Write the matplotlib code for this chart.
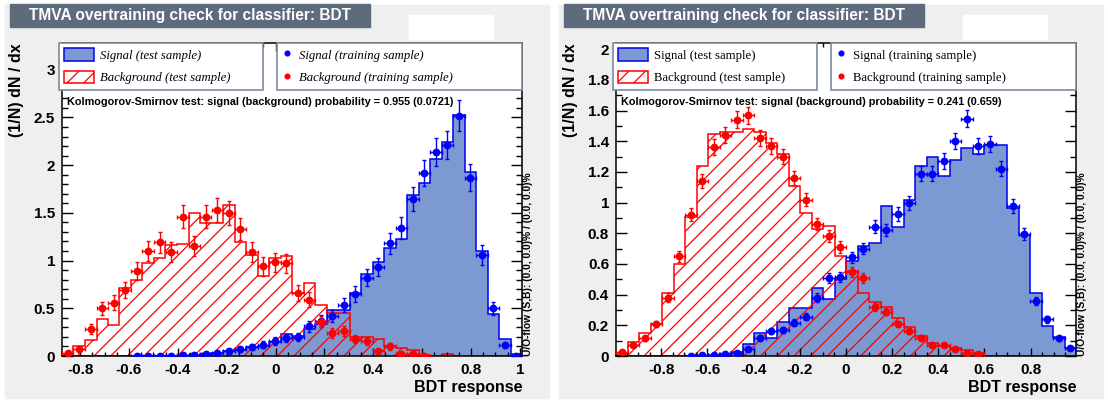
import matplotlib.pyplot as plt
import numpy as np
from matplotlib.patches import Rectangle, Patch
from matplotlib.lines import Line2D
from matplotlib.ticker import MultipleLocator, FuncFormatter

plt.rcParams['font.family'] = ['Liberation Sans', 'DejaVu Sans']
plt.rcParams['font.weight'] = 'bold'
plt.rcParams['axes.labelweight'] = 'bold'
plt.rcParams['axes.unicode_minus'] = False
plt.rcParams['hatch.linewidth'] = 0.9

W, H = 1108, 403

SIG_FILL = '#7d99d1'
SIG_LINE = '#0000ee'
BKG_LINE = '#ff0000'
TITLE_BOX = '#5d6b7d'
PAD_FILL = '#efefef'
LEG_EDGE = '#7d8b9d'

# --- left canvas: BDT response, 40 bins ---
range_L = (-0.874, 1.009)
sig_test_L = [0, 0, 0, 0, 0, 0, 0, 0, 0, 0,
              0.005, 0.01, 0.02, 0.03, 0.05, 0.065, 0.09, 0.11, 0.15, 0.23,
              0.21, 0.28, 0.34, 0.48, 0.48, 0.665, 0.86, 0.99, 1.13, 1.225,
              1.69, 1.81, 2.06, 2.24, 2.53, 1.925, 1.10, 0.44, 0.175, 0.02]
bkg_test_L = [0.02, 0.10, 0.17, 0.39, 0.33, 0.71, 0.80, 0.97, 1.03, 1.16,
              1.17, 1.50, 1.39, 1.39, 1.58, 1.19, 1.06, 0.84, 1.03, 1.05,
              0.66, 0.76, 0.53, 0.45, 0.45, 0.20, 0.20, 0.18, 0.10, 0.08,
              0.06, 0.01, 0.0, 0.02, 0, 0, 0, 0, 0, 0]
sig_train_L = [0, 0, 0, 0, 0, 0, 0.002, 0.002, 0.002, 0.002,
               0.006, 0.006, 0.02, 0.03, 0.05, 0.07, 0.095, 0.12, 0.16, 0.19,
               0.20, 0.31, 0.37, 0.42, 0.53, 0.65, 0.82, 0.93, 1.18, 1.34,
               1.645, 1.92, 2.135, 2.21, 2.52, 1.87, 1.06, 0.50, 0.115, 0.005]
sig_err_L = [0, 0, 0, 0, 0, 0, 0.005, 0.005, 0.005, 0.005,
             0.008, 0.008, 0.014, 0.017, 0.022, 0.026, 0.031, 0.035, 0.04, 0.044,
             0.045, 0.056, 0.061, 0.065, 0.073, 0.081, 0.091, 0.096, 0.109, 0.116,
             0.128, 0.139, 0.146, 0.149, 0.159, 0.137, 0.103, 0.071, 0.034, 0.007]
bkg_train_L = [0.03, 0.07, 0.28, 0.50, 0.56, 0.69, 0.89, 1.10, 1.19, 1.09,
               1.46, 1.15, 1.46, 1.53, 1.50, 1.33, 1.09, 0.94, 0.98, 0.97,
               0.66, 0.59, 0.36, 0.24, 0.26, 0.175, 0.16, 0.055, 0.10, 0.025,
               0.025, 0.005, 0, 0, 0, 0, 0, 0, 0, 0]
bkg_err_L = [0.017, 0.026, 0.053, 0.071, 0.075, 0.083, 0.094, 0.105, 0.109, 0.104,
             0.121, 0.107, 0.121, 0.124, 0.122, 0.115, 0.104, 0.097, 0.099, 0.098,
             0.081, 0.077, 0.06, 0.049, 0.051, 0.042, 0.04, 0.023, 0.032, 0.016,
             0.016, 0.007, 0, 0, 0, 0, 0, 0, 0, 0]
ks_L = 'Kolmogorov-Smirnov test: signal (background) probability = 0.955 (0.0721)'

# --- right canvas ---
range_R = (-0.996, 0.997)
sig_test_R = [0, 0, 0, 0, 0, 0, 0, 0, 0.005, 0.013,
              0.028, 0.076, 0.148, 0.115, 0.22, 0.31, 0.315, 0.445, 0.37, 0.50,
              0.62, 0.717, 0.735, 0.978, 0.843, 1.02, 1.24, 1.296, 1.174, 1.28,
              1.354, 1.317, 1.376, 1.376, 0.963, 0.79, 0.41, 0.198, 0.122, 0.054]
bkg_test_R = [0.01, 0.093, 0.148, 0.21, 0.41, 0.60, 0.905, 1.24, 1.445, 1.46,
              1.46, 1.48, 1.46, 1.39, 1.315, 1.11, 0.93, 0.83, 0.85, 0.65,
              0.556, 0.41, 0.35, 0.32, 0.25, 0.19, 0.13, 0.087, 0.067, 0.05,
              0.04, 0.017, 0.003, 0, 0, 0, 0, 0, 0, 0]
sig_train_R = [0, 0, 0, 0, 0, 0, 0.002, 0.006, 0.006, 0.013,
               0.022, 0.043, 0.12, 0.163, 0.17, 0.217, 0.256, 0.38, 0.507, 0.517,
               0.643, 0.70, 0.843, 0.82, 0.926, 0.996, 1.187, 1.187, 1.27, 1.40,
               1.546, 1.37, 1.383, 1.22, 0.978, 0.796, 0.36, 0.24, 0.115, 0.054]
sig_err_R = [0, 0, 0, 0, 0, 0, 0.002, 0.003, 0.003, 0.005,
             0.007, 0.009, 0.016, 0.018, 0.019, 0.021, 0.023, 0.028, 0.032, 0.032,
             0.036, 0.038, 0.041, 0.041, 0.043, 0.045, 0.049, 0.049, 0.051, 0.053,
             0.056, 0.053, 0.053, 0.05, 0.045, 0.04, 0.027, 0.022, 0.015, 0.01]
bkg_train_R = [0.024, 0.072, 0.115, 0.21, 0.38, 0.65, 0.92, 1.14, 1.36, 1.44,
               1.54, 1.57, 1.42, 1.37, 1.30, 1.16, 1.02, 0.86, 0.78, 0.71,
               0.545, 0.51, 0.32, 0.29, 0.21, 0.16, 0.12, 0.072, 0.072, 0.044,
               0.017, 0.01, 0, 0, 0, 0, 0, 0, 0, 0]
bkg_err_R = [0.007, 0.012, 0.015, 0.021, 0.028, 0.036, 0.043, 0.048, 0.052, 0.054,
             0.056, 0.056, 0.054, 0.053, 0.051, 0.048, 0.045, 0.042, 0.04, 0.038,
             0.033, 0.032, 0.025, 0.024, 0.021, 0.018, 0.016, 0.012, 0.012, 0.009,
             0.006, 0.005, 0, 0, 0, 0, 0, 0, 0, 0]
ks_R = 'Kolmogorov-Smirnov test: signal (background) probability = 0.241 (0.659)'

title = 'TMVA overtraining check for classifier: BDT'
uoflow = 'U/O-flow (S,B): (0.0, 0.0)% / (0.0, 0.0)%'


def box(x, y, w, h):
    # pixel box, origin top-left -> figure fraction rect
    return [x / W, 1 - (y + h) / H, w / W, h / H]


def tick_fmt(v, pos):
    v = round(v, 4)
    return '0' if v == 0 else f'{v:g}'


def draw_panel(ox, lo, hi, ymax, ymaj, ymin, sig_test, bkg_test,
               sig_train, sig_err, bkg_train, bkg_err, ks, leg_style):
    # canvas background, title bar and logo slot
    fig.patches.append(Rectangle(box(ox + 5, 5, 544, 393)[:2], 544 / W, 393 / H,
                                 transform=fig.transFigure, color=PAD_FILL, zorder=-10))
    r = box(ox + 10, 4, 360, 23)
    fig.patches.append(Rectangle(r[:2], r[2], r[3], transform=fig.transFigure,
                                 color=TITLE_BOX, zorder=-5))
    fig.text(r[0] + r[2] / 2, r[1] + r[3] / 2, title, color='white', fontsize=11.2,
             ha='center', va='center')
    r = box(ox + 409, 15, 84, 24)
    fig.patches.append(Rectangle(r[:2], r[2], r[3], transform=fig.transFigure,
                                 color='white', zorder=-5))

    ax = fig.add_axes(box(ox + 62, 43, 460, 313))
    edges = np.linspace(lo, hi, len(sig_test) + 1)
    centers = 0.5 * (edges[:-1] + edges[1:])
    half = 0.5 * (edges[1] - edges[0])

    ax.stairs(sig_test, edges, fill=True, color=SIG_FILL, lw=0)
    ax.stairs(sig_test, edges, color=SIG_LINE, lw=1.1)
    ax.stairs(bkg_test, edges, fill=True, facecolor='none', edgecolor=BKG_LINE,
              hatch='//', lw=0)
    ax.stairs(bkg_test, edges, color=BKG_LINE, lw=1.1)

    for vals, errs, col in ((sig_train, sig_err, 'blue'), (bkg_train, bkg_err, 'red')):
        v = np.array(vals)
        e = np.array(errs)
        m = v > 0
        ax.errorbar(centers[m], v[m], xerr=half, yerr=e[m], fmt='o', color=col,
                    ms=4.6, lw=1.0, capsize=1.6, capthick=1.0, zorder=5)

    ax.set_xlim(lo, hi)
    ax.set_ylim(0, ymax)
    ax.xaxis.set_major_locator(MultipleLocator(0.2))
    ax.xaxis.set_minor_locator(MultipleLocator(0.05))
    ax.yaxis.set_major_locator(MultipleLocator(ymaj))
    ax.yaxis.set_minor_locator(MultipleLocator(ymin))
    ax.xaxis.set_major_formatter(FuncFormatter(tick_fmt))
    ax.yaxis.set_major_formatter(FuncFormatter(tick_fmt))
    ax.tick_params(which='both', direction='in', top=True, right=True,
                   labelsize=11, width=1, pad=5)
    ax.tick_params(axis='x', which='major', length=5.5)
    ax.tick_params(axis='x', which='minor', length=2.8)
    ax.tick_params(axis='y', which='major', length=8)
    ax.tick_params(axis='y', which='minor', length=4)
    for s in ax.spines.values():
        s.set_linewidth(1.1)

    ax.set_xlabel('BDT response', fontsize=11.5, loc='right', labelpad=2)
    ax.set_ylabel('(1/N) dN / dx', fontsize=11.5, loc='top', labelpad=7)
    ax.text(1.003, 0.0, uoflow, transform=ax.transAxes, rotation=90,
            ha='left', va='bottom', fontsize=7.4)
    ax.text(0.011, 0.811, ks, transform=ax.transAxes, fontsize=7.8, va='center')

    prop = {'family': 'Liberation Serif', 'style': leg_style, 'weight': 'normal', 'size': 9.2}
    h1 = [Patch(facecolor=SIG_FILL, edgecolor=SIG_LINE, lw=1.1),
          Patch(facecolor='none', edgecolor=BKG_LINE, hatch='//', lw=1.1)]
    leg1 = ax.legend(h1, ['Signal (test sample)', 'Background (test sample)'],
                     loc='upper left', bbox_to_anchor=(-0.006, 0, 0.443, 1), mode='expand',
                     borderaxespad=0, prop=prop, fancybox=False, framealpha=1,
                     edgecolor=LEG_EDGE, handlelength=2.3, handleheight=1.15,
                     handletextpad=0.5, labelspacing=0.7, borderpad=0.4)
    leg1.get_frame().set_linewidth(1.2)
    ax.add_artist(leg1)
    h2 = [Line2D([], [], marker='o', ls='none', color='blue', ms=3.4),
          Line2D([], [], marker='o', ls='none', color='red', ms=3.4)]
    leg2 = ax.legend(h2, ['Signal (training sample)', 'Background (training sample)'],
                     loc='upper left', bbox_to_anchor=(0.467, 0, 0.533, 1), mode='expand',
                     borderaxespad=0, prop=prop, fancybox=False, framealpha=1,
                     edgecolor=LEG_EDGE, handlelength=0.8, handleheight=1.15,
                     handletextpad=0.5, labelspacing=0.7, borderpad=0.4)
    leg2.get_frame().set_linewidth(1.2)
    return ax


fig = plt.figure(figsize=(W / 100, H / 100), dpi=100)
fig.patch.set_facecolor('white')

draw_panel(0, *range_L, 3.28, 0.5, 0.1, sig_test_L, bkg_test_L,
           sig_train_L, sig_err_L, bkg_train_L, bkg_err_L, ks_L, 'italic')
draw_panel(554, *range_R, 2.04, 0.2, 0.1, sig_test_R, bkg_test_R,
           sig_train_R, sig_err_R, bkg_train_R, bkg_err_R, ks_R, 'normal')

fig.savefig('out.png', dpi=100)
